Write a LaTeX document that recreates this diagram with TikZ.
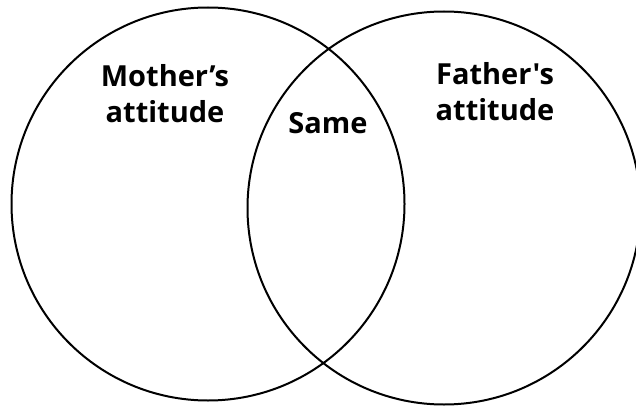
\documentclass[tikz,border=0pt]{standalone}
\usepackage{fontspec}
\newfontfamily\lblfont{Open Sans}
\usepackage{tikz}
\usetikzlibrary{positioning}

\begin{document}
\begin{tikzpicture}[
			x=1pt,y=-1pt,
			set/.style={draw=black,line width=2pt,circle,inner sep=0pt,minimum size=393pt},
			lbl/.style={font=\lblfont\bfseries\fontsize{29}{36}\selectfont,align=center,inner sep=0pt}
			]
			\useasboundingbox (0,0) rectangle (636,406);
			\node[set] (mother) at (208,204) {};
			\node[set] (father) at (444,208) {};
			\node[lbl] (mt) at (165,94) {Mother’s\\attitude};
			\node[lbl] (ft) at (495,92) {Father's\\attitude};
			\node[lbl] (same) at (328,123) {Same};
		\end{tikzpicture}
\end{document}
